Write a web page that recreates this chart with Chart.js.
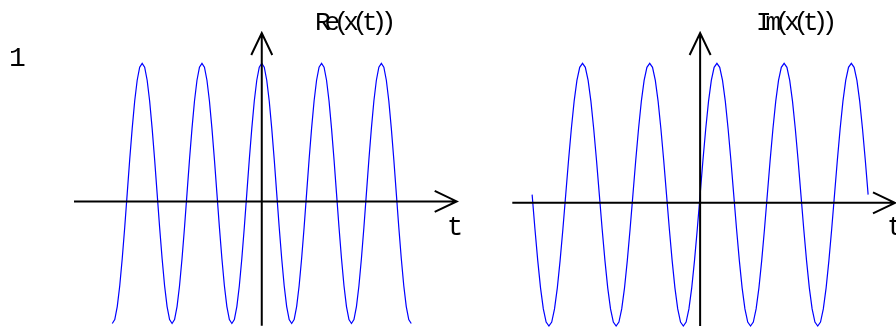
<!DOCTYPE html>
<html>
<head>
<meta charset="utf-8">
<title>Re / Im of x(t)</title>
<script src="https://cdn.jsdelivr.net/npm/chart.js@4/dist/chart.umd.min.js"></script>
<style>
  html, body { margin: 0; padding: 0; background: #fff; }
  #wrap { position: relative; width: 896px; height: 331px; overflow: hidden; }
  #wrap canvas { position: absolute; left: 0; top: 0; }
</style>
</head>
<body>
<div id="wrap">
  <canvas id="re-plot" width="896" height="331"></canvas>
  <canvas id="im-plot" width="896" height="331"></canvas>
</div>
<script>
// ── DATA ──────────────────────────────────────────────────────────────────────
// samples run from t = -5 to t = 5, 24 per period (period = 2)
const T_FIRST = -5;
const T_STEP = 1 / 12;

// Re(x(t)) – starts and ends in a trough
const reValues = [
  -1, -0.97, -0.87, -0.71, -0.5, -0.26, 0, 0.26, 0.5, 0.71, 0.87, 0.97, 1, 0.97, 0.87, 0.71, 0.5, 0.26, 0, -0.26, -0.5, -0.71, -0.87, -0.97,
  -1, -0.97, -0.87, -0.71, -0.5, -0.26, 0, 0.26, 0.5, 0.71, 0.87, 0.97, 1, 0.97, 0.87, 0.71, 0.5, 0.26, 0, -0.26, -0.5, -0.71, -0.87, -0.97,
  -1, -0.97, -0.87, -0.71, -0.5, -0.26, 0, 0.26, 0.5, 0.71, 0.87, 0.97, 1, 0.97, 0.87, 0.71, 0.5, 0.26, 0, -0.26, -0.5, -0.71, -0.87, -0.97,
  -1, -0.97, -0.87, -0.71, -0.5, -0.26, 0, 0.26, 0.5, 0.71, 0.87, 0.97, 1, 0.97, 0.87, 0.71, 0.5, 0.26, 0, -0.26, -0.5, -0.71, -0.87, -0.97,
  -1, -0.97, -0.87, -0.71, -0.5, -0.26, 0, 0.26, 0.5, 0.71, 0.87, 0.97, 1, 0.97, 0.87, 0.71, 0.5, 0.26, 0, -0.26, -0.5, -0.71, -0.87, -0.97,
  -1
];

// Im(x(t)) – starts and ends on the zero line
const imValues = [
  0, -0.26, -0.5, -0.71, -0.87, -0.97, -1, -0.97, -0.87, -0.71, -0.5, -0.26, 0, 0.26, 0.5, 0.71, 0.87, 0.97, 1, 0.97, 0.87, 0.71, 0.5, 0.26,
  0, -0.26, -0.5, -0.71, -0.87, -0.97, -1, -0.97, -0.87, -0.71, -0.5, -0.26, 0, 0.26, 0.5, 0.71, 0.87, 0.97, 1, 0.97, 0.87, 0.71, 0.5, 0.26,
  0, -0.26, -0.5, -0.71, -0.87, -0.97, -1, -0.97, -0.87, -0.71, -0.5, -0.26, 0, 0.26, 0.5, 0.71, 0.87, 0.97, 1, 0.97, 0.87, 0.71, 0.5, 0.26,
  0, -0.26, -0.5, -0.71, -0.87, -0.97, -1, -0.97, -0.87, -0.71, -0.5, -0.26, 0, 0.26, 0.5, 0.71, 0.87, 0.97, 1, 0.97, 0.87, 0.71, 0.5, 0.26,
  0, -0.26, -0.5, -0.71, -0.87, -0.97, -1, -0.97, -0.87, -0.71, -0.5, -0.26, 0, 0.26, 0.5, 0.71, 0.87, 0.97, 1, 0.97, 0.87, 0.71, 0.5, 0.26,
  0
];

// the t axis is drawn a little under the zero line of the curves
const T_AXIS_LEVEL = -0.062;

const reTitle = 'Re(x(t))';
const imTitle = 'Im(x(t))';
const axisName = 't';
const yTickLabel = '1';

// ── AXES + LABELS PLUGIN ──────────────────────────────────────────────────────
const MONO = '"Liberation Mono", "DejaVu Sans Mono", monospace';

const arrowAxes = {
  id: 'arrowAxes',
  afterDatasetsDraw(chart, args, opts) {
    const { ctx, chartArea: a, scales: { x, y } } = chart;
    const x0 = x.getPixelForValue(0);
    const y0 = y.getPixelForValue(opts.level);

    ctx.save();
    ctx.strokeStyle = '#000';
    ctx.lineWidth = 2;
    ctx.lineCap = 'butt';
    ctx.beginPath();
    // vertical axis, arrow on top
    ctx.moveTo(x0, a.bottom);
    ctx.lineTo(x0, a.top);
    ctx.moveTo(x0 - 10.5, a.top + 22);
    ctx.lineTo(x0, a.top);
    ctx.lineTo(x0 + 10.5, a.top + 22);
    // t axis, arrow on the right
    ctx.moveTo(a.left, y0);
    ctx.lineTo(a.right, y0);
    ctx.moveTo(a.right - 22, y0 - 10.5);
    ctx.lineTo(a.right, y0);
    ctx.lineTo(a.right - 22, y0 + 10.5);
    ctx.stroke();

    // texts
    ctx.fillStyle = '#000';
    ctx.textBaseline = 'alphabetic';
    ctx.textAlign = 'left';
    (opts.texts || []).forEach(t => {
      ctx.font = t.size + 'px ' + MONO;
      ctx.letterSpacing = (t.spacing || 0) + 'px';
      ctx.fillText(t.text, t.x, t.y);
    });
    ctx.restore();
  }
};

// ── CHART BUILDER ─────────────────────────────────────────────────────────────
function toPoints(values) {
  return values.map((v, i) => ({ x: T_FIRST + i * T_STEP, y: v }));
}

function makePlot(id, values, cfg) {
  return new Chart(document.getElementById(id), {
    type: 'line',
    data: {
      datasets: [{
        data: toPoints(values),
        borderColor: '#0000ff',
        borderWidth: 1.2,
        pointRadius: 0,
        tension: 0,
        clip: false
      }]
    },
    options: {
      responsive: false,
      animation: false,
      events: [],
      layout: { padding: cfg.padding },
      plugins: {
        legend: { display: false },
        tooltip: { enabled: false },
        arrowAxes: { level: T_AXIS_LEVEL, texts: cfg.texts }
      },
      scales: {
        x: { type: 'linear', display: false, min: cfg.xMin, max: cfg.xMax },
        y: { type: 'linear', display: false, min: cfg.yMin, max: cfg.yMax }
      }
    },
    plugins: [arrowAxes]
  });
}

// ── LEFT — Re(x(t)) ───────────────────────────────────────────────────────────
makePlot('re-plot', reValues, {
  padding: { left: 74, right: 439.3, top: 33, bottom: 5.3 },
  xMin: -6.28, xMax: 6.52,
  yMin: -1.017, yMax: 1.233,
  texts: [
    { text: reTitle, x: 315, y: 30, size: 26, spacing: -6.2 },
    { text: axisName, x: 447, y: 235, size: 27 },
    { text: yTickLabel, x: 9, y: 66, size: 28 }
  ]
});

// ── RIGHT — Im(x(t)) ──────────────────────────────────────────────────────────
makePlot('im-plot', imValues, {
  padding: { left: 512.3, right: 1, top: 33, bottom: 5 },
  xMin: -5.59, xMax: 5.80,
  yMin: -1.0, yMax: 1.231,
  texts: [
    { text: imTitle, x: 756, y: 30, size: 26, spacing: -6.2 },
    { text: axisName, x: 887, y: 235, size: 27 }
  ]
});
</script>
</body>
</html>
